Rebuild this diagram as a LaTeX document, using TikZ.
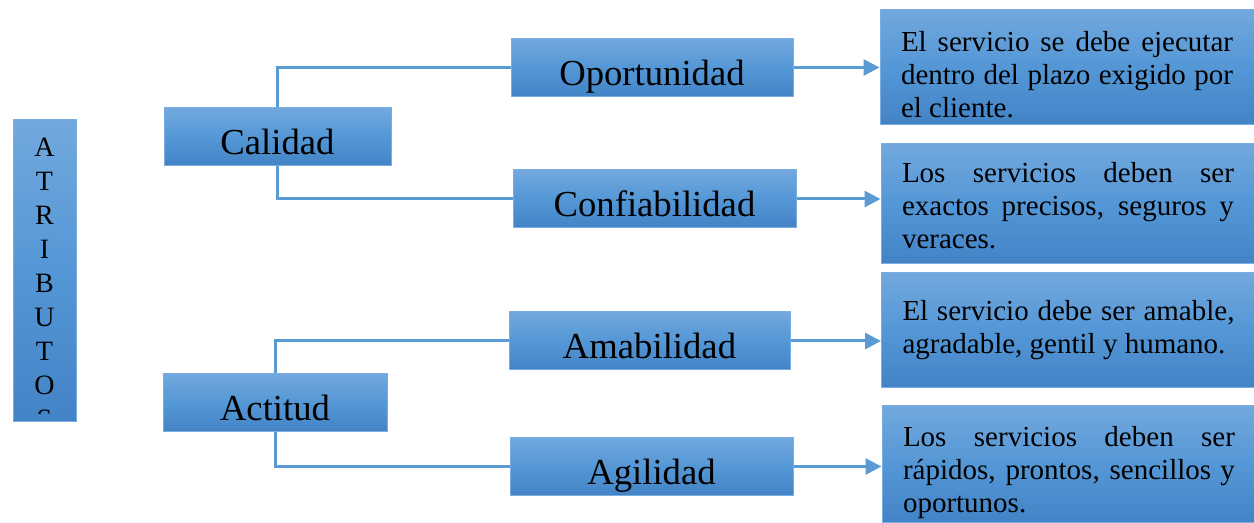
\documentclass[tikz,border=0pt]{standalone}
\usepackage{fontspec}
\setmainfont{Liberation Serif}
\usetikzlibrary{arrows.meta,positioning}
\definecolor{linkblue}{RGB}{91,155,213}
\definecolor{boxtop}{RGB}{114,168,222}
\definecolor{boxmid}{RGB}{84,151,214}
\definecolor{boxbot}{RGB}{66,131,197}
\definecolor{boxline}{RGB}{122,174,226}
\begin{document}
\begin{tikzpicture}[x=0.75pt,y=-0.75pt]
\tikzstyle{blue box}=[rectangle, draw=boxline, line width=0.75pt, top color=boxtop, bottom color=boxbot, middle color=boxmid, inner sep=0pt]
\tikzstyle{attribute}=[blue box, minimum height=43.5pt, font=\fontsize{27.5}{33}\selectfont, text height=27pt, text depth=0pt]
\tikzstyle{detail}=[blue box, text width=249pt, inner xsep=15.75pt, align=justify, font=\fontsize{21.75}{24.75}\selectfont]
\tikzstyle{link}=[draw=linkblue, line width=2.25pt]
\tikzstyle{arrow}=[link, -{Triangle[length=12pt,width=12pt]}]
\useasboundingbox (0,0) rectangle (1254,523);
% vertical title
\node[blue box, minimum width=47.25pt, minimum height=226.5pt] (attr) at (44.5,271) {};
\begin{scope}
\clip (attr.north west) rectangle ([yshift=6.75pt]attr.south east);
\node[anchor=north, inner sep=0pt, align=center, font=\fontsize{21}{25.5}\selectfont] (letters) at ([yshift=-13.9pt]attr.north) {A\\T\\R\\I\\B\\U\\T\\O\\S};
\end{scope}
% groups
\node[attribute, minimum width=170.25pt] (calidad) at (277.5,137) {Calidad};
\node[attribute, minimum width=168pt] (actitud) at (275,403) {Actitud};
% attributes
\node[attribute, minimum width=211.5pt] (oport) at (652,67.5) {Oportunidad};
\node[attribute, minimum width=212.25pt] (confia) at (654.5,199) {Confiabilidad};
\node[attribute, minimum width=210.75pt] (amab) at (649.5,341) {Amabilidad};
\node[attribute, minimum width=212.25pt] (agil) at (651.5,466.5) {Agilidad};
% descriptions
\node[detail, minimum height=86.25pt, text height=26.25pt] (desc1) at (1067,67.5) {El servicio se debe ejecutar\linebreak dentro del plazo exigido por\linebreak el cliente.};
\node[detail, minimum height=90pt, text height=18pt] (desc2) at (1068,204) {Los servicios deben ser\linebreak exactos precisos, seguros y\linebreak veraces.};
\node[detail, minimum height=86.25pt] (desc3) at (1068.5,330.5) {El servicio debe ser amable,\linebreak agradable, gentil y humano.};
\node[detail, minimum height=87.75pt, text height=27.75pt] (desc4) at (1069,464.5) {Los servicios deben ser\linebreak r\'apidos, prontos, sencillos y\linebreak oportunos.};
% connectors
\draw[link] (calidad.north) |- (oport.west);
\draw[link] (calidad.south) |- (confia.west);
\draw[link] (actitud.north) |- (amab.west);
\draw[link] (actitud.south) |- (agil.west);
\draw[arrow] (oport.east) -- (oport.east -| desc1.west);
\draw[arrow] (confia.east) -- (confia.east -| desc2.west);
\draw[arrow] (amab.east) -- (amab.east -| desc3.west);
\draw[arrow] (agil.east) -- (agil.east -| desc4.west);
\end{tikzpicture}
\end{document}
